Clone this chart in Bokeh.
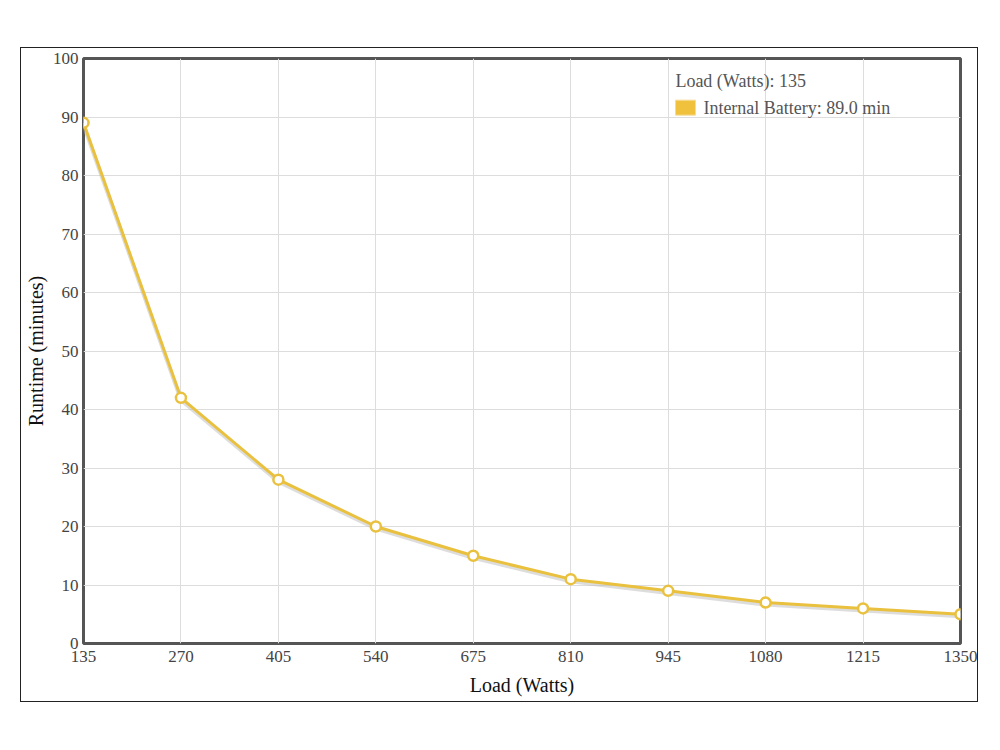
from bokeh.plotting import figure
from bokeh.models import Range1d, FixedTicker, Label
from bokeh.embed import file_html
from bokeh.resources import INLINE

# ---- data ----
load_watts = [135, 270, 405, 540, 675, 810, 945, 1080, 1215, 1350]
runtime_min = [89.0, 42, 28, 20, 15, 11, 9, 7, 6, 5]
y_ticks = [0, 10, 20, 30, 40, 50, 60, 70, 80, 90, 100]
series_name = "Internal Battery"
x_title = "Load (Watts)"
y_title = "Runtime (minutes)"

FONT = "Liberation Serif"
LINE = "#e9c13f"

p = figure(width=958, height=655, output_backend="svg", toolbar_location=None,
           x_range=Range1d(load_watts[0], load_watts[-1]), y_range=Range1d(0, 100),
           min_border_left=60, min_border_right=19, min_border_top=10, min_border_bottom=60,
           margin=(47, 0, 0, 20))
p.styles = {"border": "1px solid #222"}
p.outline_line_color = "#555555"
p.outline_line_width = 3
p.background_fill_color = "white"
p.border_fill_color = "white"

for ax in (p.xaxis[0], p.yaxis[0]):
    ax.axis_line_color = None
    ax.major_tick_line_color = None
    ax.minor_tick_line_color = None
    ax.major_tick_out = 0
    ax.major_tick_in = 0
    ax.major_label_text_font = FONT
    ax.major_label_text_font_size = "17px"
    ax.major_label_text_color = "#444444"
    ax.axis_label_text_font = FONT
    ax.axis_label_text_font_size = "20px"
    ax.axis_label_text_font_style = "normal"
    ax.axis_label_text_color = "#111111"

p.xaxis.ticker = FixedTicker(ticks=load_watts)
p.yaxis.ticker = FixedTicker(ticks=y_ticks)
p.xaxis.axis_label = x_title
p.yaxis.axis_label = y_title
p.xaxis.major_label_standoff = 7
p.yaxis.major_label_standoff = 5
p.xaxis.axis_label_standoff = 9
p.yaxis.axis_label_standoff = 3

p.xgrid.grid_line_color = "#dddddd"
p.ygrid.grid_line_color = "#dddddd"
p.xgrid.ticker = FixedTicker(ticks=load_watts)
p.ygrid.ticker = FixedTicker(ticks=y_ticks)

# shadow
shadow_y = [v - 0.35 for v in runtime_min]
p.line(load_watts, shadow_y, line_color="#bbbbbb", line_width=4, line_alpha=0.5)
p.line(load_watts, runtime_min, line_color=LINE, line_width=3)
p.scatter(load_watts, runtime_min, size=10, fill_color="white", line_color=LINE, line_width=2.5)

# tooltip-like legend
tx = 955
p.add_layout(Label(x=tx, y=96.1, text=f"{x_title}: {load_watts[0]}", text_font=FONT,
                   text_font_size="18px", text_color="#555555", text_baseline="middle"))
p.rect(x=[tx + 14], y=[91.6], width=20, height=15, width_units="screen", height_units="screen",
       fill_color="#f0c13c", line_color="#f5dc9a", line_width=1)
p.add_layout(Label(x=tx, y=91.6, x_offset=28, text=f"{series_name}: {runtime_min[0]:.1f} min",
                   text_font=FONT, text_font_size="18px", text_color="#555555",
                   text_baseline="middle"))

open("out.html", "w").write(file_html(p, INLINE))
